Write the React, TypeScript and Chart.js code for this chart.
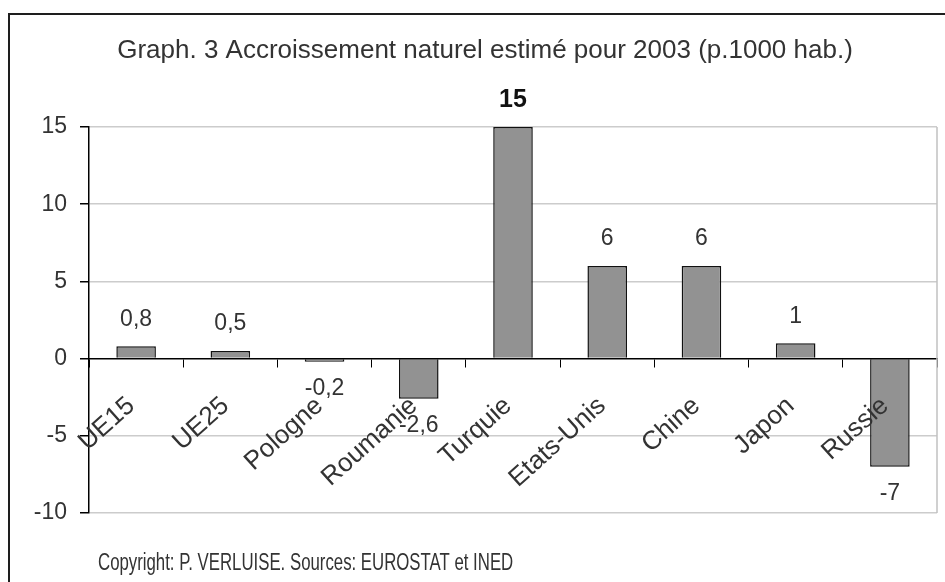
import React, { useEffect, useRef } from "react";
import { Chart, registerables } from "chart.js";

Chart.register(...registerables);

const categories = ["UE15", "UE25", "Pologne", "Roumanie", "Turquie", "Etats-Unis", "Chine", "Japon", "Russie"];
const values = [0.8, 0.5, -0.2, -2.6, 15, 6, 6, 1, -7];
const valueLabels = ["0,8", "0,5", "-0,2", "-2,6", "15", "6", "6", "1", "-7"];
const boldLabels = [false, false, false, false, true, false, false, false, false];
const yMin = -10;
const yMax = 15;
const yStep = 5;
const titleText = "Graph. 3 Accroissement naturel estimé pour 2003 (p.1000 hab.)";
const sourceText = "Copyright: P. VERLUISE. Sources: EUROSTAT et INED";

const FONT = "'Liberation Sans', Arial, sans-serif";

const decorPlugin = {
  id: "decor",
  beforeDraw(chart: any) {
    const ctx = chart.ctx;
    ctx.save();
    ctx.fillStyle = "#ffffff";
    ctx.fillRect(0, 0, chart.width, chart.height);
    ctx.restore();
  },
  afterDraw(chart: any) {
    const { ctx, chartArea } = chart;
    ctx.save();
    // right border of plot
    ctx.strokeStyle = "#c0c0c0";
    ctx.lineWidth = 1.5;
    ctx.beginPath();
    ctx.moveTo(chartArea.right, chartArea.top);
    ctx.lineTo(chartArea.right, chartArea.bottom);
    ctx.stroke();
    // outer frame
    ctx.strokeStyle = "#1e1e1e";
    ctx.lineWidth = 2;
    ctx.strokeRect(9, 14, 1000, 1000);
    // title
    ctx.fillStyle = "#333333";
    ctx.font = `26px ${FONT}`;
    ctx.textAlign = "center";
    ctx.textBaseline = "middle";
    ctx.fillText(titleText, 485, 51);
    // source (condensed)
    ctx.save();
    ctx.translate(98, 564);
    ctx.scale(0.73, 1);
    ctx.font = `23px ${FONT}`;
    ctx.textAlign = "left";
    ctx.fillText(sourceText, 0, 0);
    ctx.restore();
    // value labels
    const meta = chart.getDatasetMeta(0);
    meta.data.forEach((bar: any, i: number) => {
      const v = values[i];
      ctx.font = boldLabels[i] ? `bold 25px ${FONT}` : `23px ${FONT}`;
      ctx.textAlign = "center";
      ctx.fillStyle = boldLabels[i] ? "#111111" : "#333333";
      const y = v >= 0 ? bar.y - 27 : bar.y + 27;
      ctx.fillText(valueLabels[i], bar.x, y);
    });
    ctx.restore();
  },
};

export default function App() {
  const ref = useRef<HTMLCanvasElement | null>(null);

  useEffect(() => {
    if (!ref.current) return;
    Chart.defaults.font.family = FONT;
    const chart = new Chart(ref.current, {
      type: "bar",
      data: {
        labels: categories,
        datasets: [
          {
            data: values,
            backgroundColor: "#929292",
            borderColor: "#111111",
            borderWidth: 1.5,
            barPercentage: 0.42,
            categoryPercentage: 1,
          },
        ],
      },
      options: {
        responsive: false,
        animation: false,
        layout: { padding: { top: 127, bottom: 69, left: 0, right: 8 } },
        plugins: {
          legend: { display: false },
          tooltip: { enabled: false },
          title: { display: false },
        },
        scales: {
          x: {
            position: { y: 0 } as any,
            grid: {
              display: true,
              drawOnChartArea: false,
              drawTicks: true,
              tickLength: 8,
              color: "#000000",
              offset: true,
              z: 1,
            },
            border: { color: "#000000", width: 1.5, z: 1 },
            ticks: {
              z: 1,
              minRotation: 42,
              maxRotation: 42,
              padding: 24,
              labelOffset: -5,
              autoSkip: false,
              color: "#333333",
              font: { size: 26, family: FONT },
            },
          },
          y: {
            min: yMin,
            max: yMax,
            afterFit: (scale: any) => {
              scale.width = 89;
            },
            grid: {
              color: (c: any) => (c.tick && c.tick.value === 0 ? "rgba(0,0,0,0)" : "#cccccc"),
              lineWidth: 1.5,
              tickLength: 9,
              tickColor: "#000000",
            },
            border: { color: "#000000", width: 1.5 },
            ticks: {
              stepSize: yStep,
              padding: 13,
              color: "#333333",
              font: { size: 23, family: FONT },
            },
          },
        },
      },
      plugins: [decorPlugin],
    });
    return () => chart.destroy();
  }, []);

  return (
    <div style={{ position: "absolute", left: 0, top: 0, width: 945, height: 582, overflow: "hidden" }}>
      <canvas ref={ref} width={945} height={582} style={{ display: "block" }} />
    </div>
  );
}
